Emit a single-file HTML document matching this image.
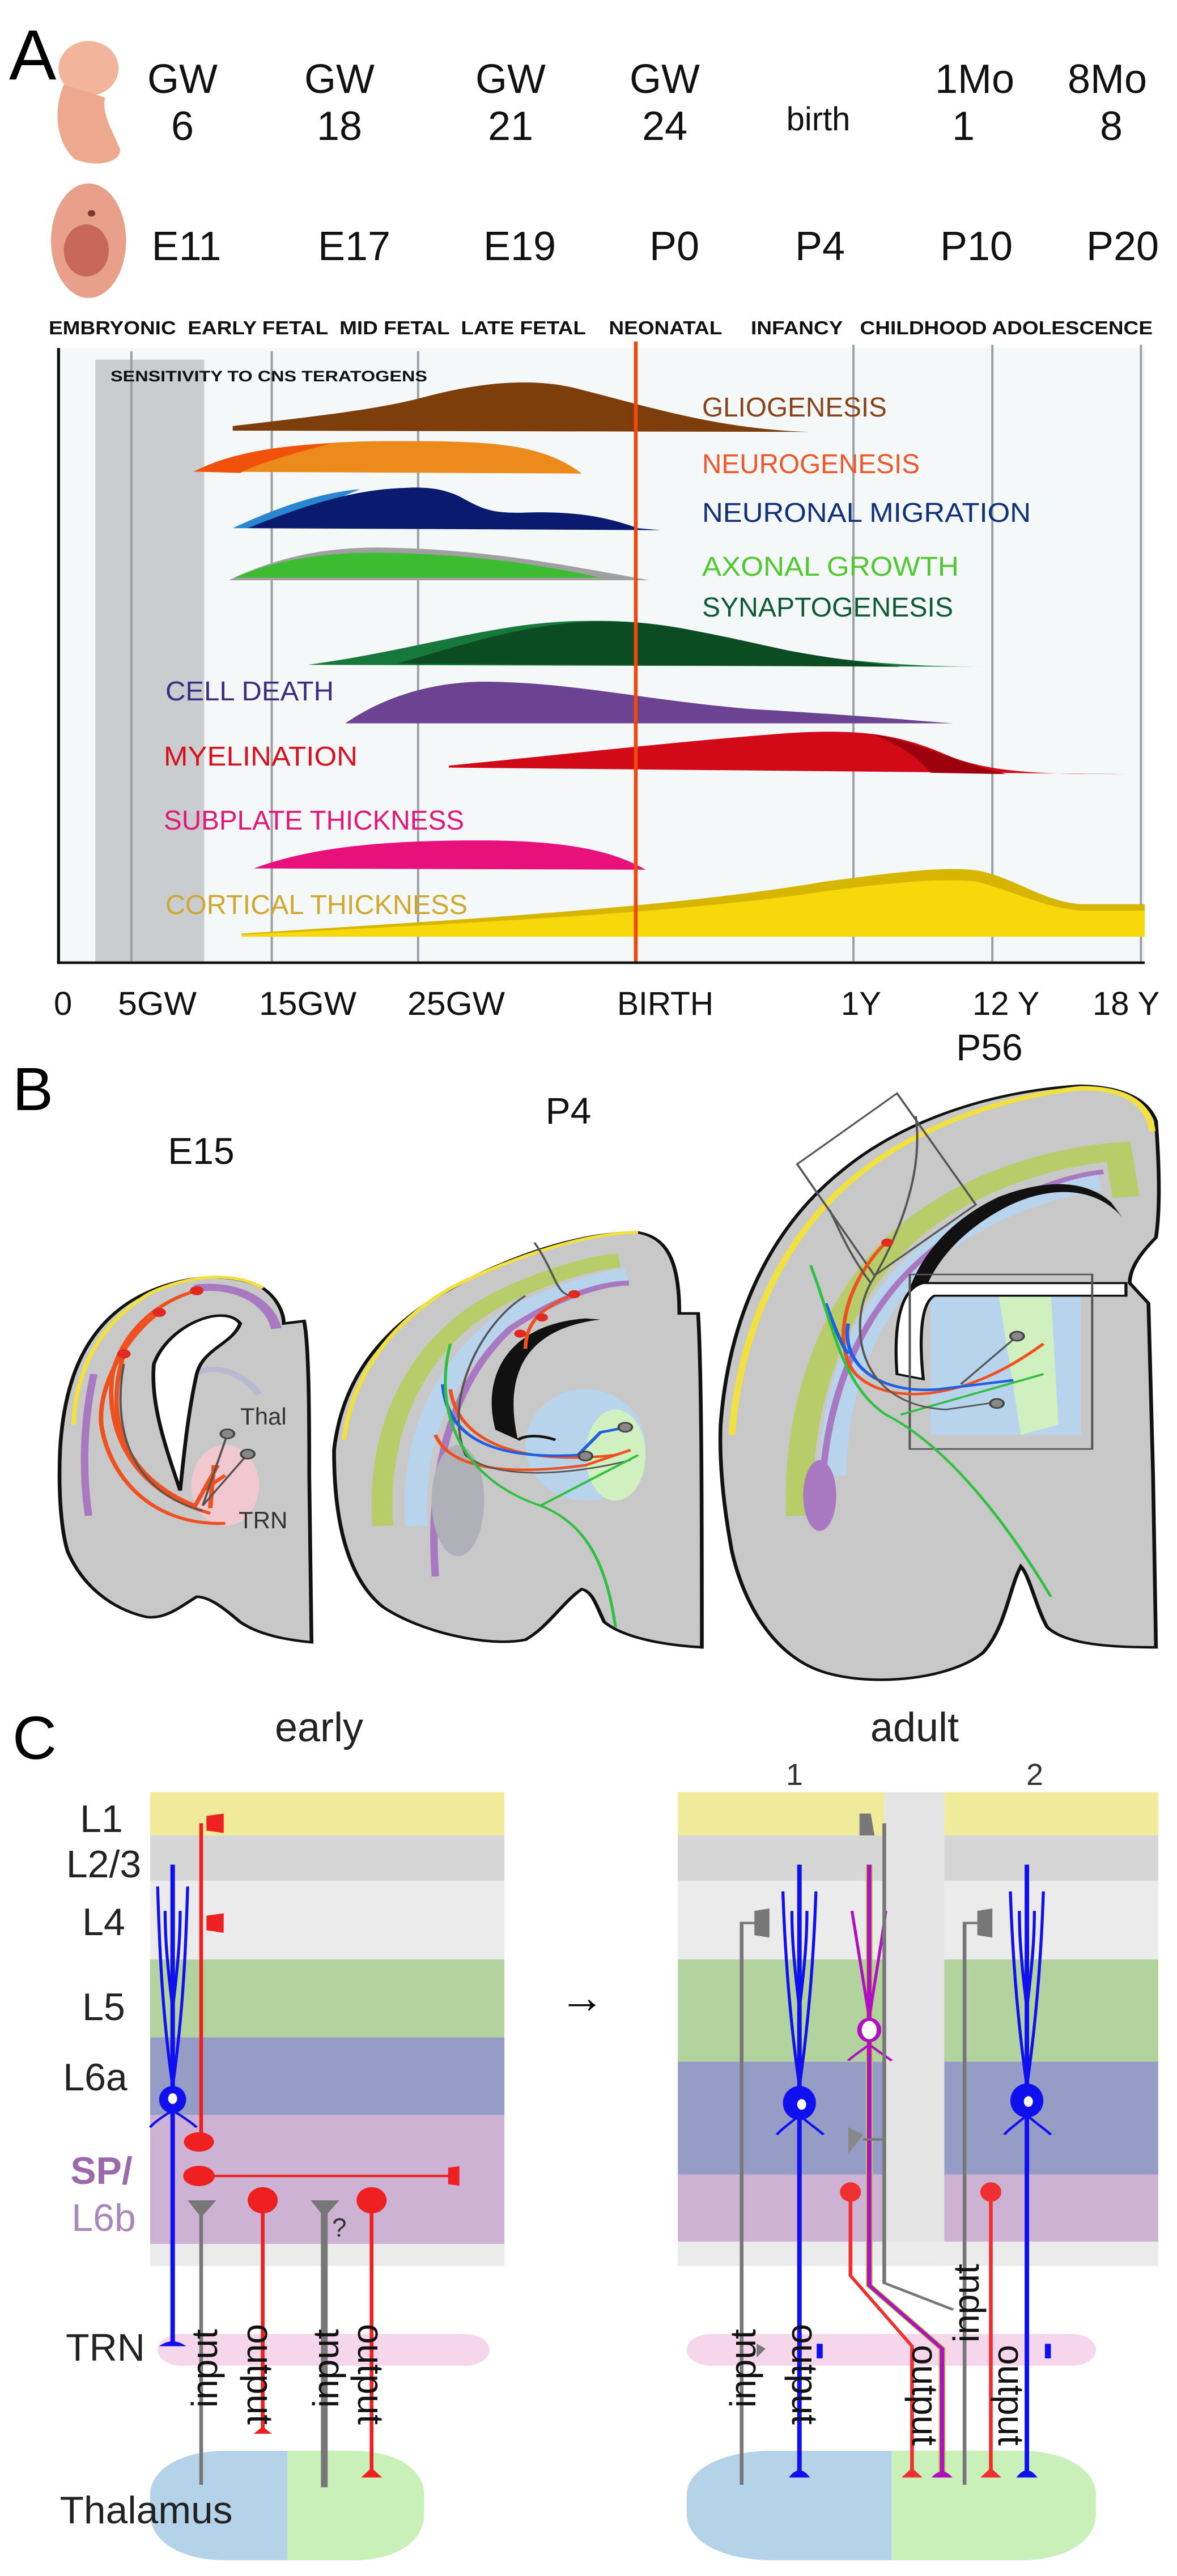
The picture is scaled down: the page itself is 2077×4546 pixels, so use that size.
<!DOCTYPE html>
<html><head><meta charset="utf-8"><style>
html,body{margin:0;padding:0;background:#fff;}
body{width:2077px;height:4546px;position:relative;overflow:hidden;}
svg{position:absolute;left:0;}
text{font-family:"Liberation Sans",sans-serif;}
</style></head><body>

<!-- PANEL A -->
<svg style="top:0" width="2077" height="1800" viewBox="0 0 1568 1568" preserveAspectRatio="none">
<rect width="1568" height="1568" fill="#fff"/>
<g>
<ellipse cx="118" cy="105" rx="40" ry="42" fill="#f2b49a"/>
<path d="M85,130 C70,170 75,220 100,245 C130,258 160,250 160,230 C150,200 135,175 140,150 Z" fill="#eea88e"/>
<ellipse cx="118" cy="370" rx="50" ry="88" fill="#e8a08a"/>
<ellipse cx="115" cy="385" rx="30" ry="40" fill="#c8685a"/>
<circle cx="122" cy="328" r="5" fill="#7a3a30"/>
</g>
<rect x="80" y="535" width="1445" height="945" fill="#f4f8f8"/>
<rect x="127" y="553" width="145" height="927" fill="#c9cdd0"/>
<g stroke="#9aa0a4" stroke-width="3">
<line x1="175" y1="540" x2="175" y2="1480"/><line x1="362" y1="540" x2="362" y2="1480"/><line x1="557" y1="540" x2="557" y2="1480"/>
<line x1="1137" y1="530" x2="1137" y2="1480"/><line x1="1322" y1="530" x2="1322" y2="1480"/><line x1="1520" y1="530" x2="1520" y2="1480"/>
</g>
<path d="M310,655 C420,640 500,630 560,612 C630,590 700,580 760,595 C850,620 950,660 1080,664 L310,662 Z" fill="#7d3e0c"/>
<path d="M258,725 C320,690 420,678 520,678 C650,678 720,680 775,728 Z" fill="#ec8a1c"/>
<path d="M258,725 C300,700 360,685 440,682 C380,700 340,715 320,727 Z" fill="#f0520c"/>
<path d="M310,812 C360,785 420,758 480,752 C430,775 400,795 380,812 Z" fill="#2a86d0"/>
<path d="M330,812 C420,770 480,752 540,750 C570,748 590,752 610,762 C640,780 650,790 700,788 C780,785 820,800 850,812 L880,815 Z" fill="#0a1a6e"/>
<path d="M305,892 C380,850 450,840 520,842 C650,845 760,870 865,892 Z" fill="#a0a0a0"/>
<path d="M312,888 C380,855 450,848 520,850 C640,853 730,870 800,888 Z" fill="#3cbc30"/>
<path d="M410,1022 C550,1000 650,960 760,955 C850,952 900,960 1000,990 C1100,1015 1200,1025 1315,1025 Z" fill="#16783a"/>
<path d="M530,1020 C620,990 700,958 800,955 C880,955 950,975 1050,1000 C1120,1015 1180,1022 1200,1025 Z" fill="#0b4c22"/>
<path d="M460,1112 C500,1080 560,1050 640,1048 C760,1048 850,1075 1000,1090 C1150,1100 1220,1108 1270,1112 Z" fill="#6c4292"/>
<path d="M598,1177 C750,1160 900,1140 1050,1127 C1150,1120 1200,1130 1260,1160 C1320,1190 1400,1190 1500,1190 L598,1180 Z" fill="#d20a18"/>
<path d="M1160,1128 C1220,1140 1270,1170 1340,1190 L1240,1188 C1220,1160 1190,1140 1160,1128Z" fill="#9c000c"/>
<path d="M338,1335 C420,1300 520,1292 640,1292 C760,1292 820,1310 860,1337 Z" fill="#e8107a"/>
<path d="M322,1435 C600,1415 900,1395 1100,1355 C1200,1340 1270,1330 1310,1340 C1360,1355 1390,1385 1440,1390 L1525,1390 L1525,1440 L322,1440 Z" fill="#d6b600"/>
<path d="M322,1437 C600,1420 900,1405 1100,1370 C1200,1355 1260,1350 1300,1355 C1350,1370 1390,1395 1440,1400 L1525,1400 L1525,1440 L322,1440 Z" fill="#f7d80a"/>
<line x1="847" y1="525" x2="847" y2="1482" stroke="#ee4a10" stroke-width="5"/>
<line x1="78" y1="535" x2="78" y2="1482" stroke="#111" stroke-width="4"/>
<line x1="76" y1="1480" x2="1525" y2="1480" stroke="#111" stroke-width="4"/>
</svg>

<!-- PANEL B -->
<svg style="top:1800px" width="2077" height="1400" viewBox="0 0 1568 1568" preserveAspectRatio="none">
<rect width="1568" height="1568" fill="#fff"/>
<path d="M80,850 C85,720 110,620 170,560 C220,510 300,490 350,530 C370,550 378,580 378,600 L405,595 C412,640 412,800 412,900 L415,1230 C380,1225 345,1215 320,1190 C300,1165 280,1140 262,1140 C240,1160 220,1185 195,1180 C150,1165 110,1120 90,1050 C80,1000 78,920 80,850 Z" fill="#c8c8c8" stroke="#111" stroke-width="5"/>
<path d="M98,800 C100,700 130,600 200,540 C250,505 310,495 350,530" fill="none" stroke="#f0e040" stroke-width="6"/>
<path d="M260,530 C320,520 360,560 368,610" fill="none" stroke="#a878c0" stroke-width="14"/>
<path d="M260,700 C280,680 320,690 345,740" fill="none" stroke="#b8b8d0" stroke-width="10"/>
<path d="M125,700 C110,800 110,900 118,980" fill="none" stroke="#a878c0" stroke-width="10"/>
<ellipse cx="300" cy="920" rx="45" ry="80" fill="#f2c8d0"/>
<path d="M205,680 C225,600 300,560 320,600 C310,640 270,650 262,700 C250,780 245,860 240,930 C222,850 200,760 205,680 Z" fill="#fff" stroke="#111" stroke-width="5"/>
<g fill="none" stroke="#ee5020" stroke-width="6">
<path d="M262,535 C200,560 160,630 150,700 C140,800 170,930 280,975"/>
<path d="M215,575 C170,620 130,720 135,800 C145,900 200,1000 300,995"/>
<path d="M165,660 C140,780 160,900 260,960 L290,880"/>
<path d="M280,965 L285,880 M270,930 L300,900"/>
</g>
<g fill="none" stroke="#555" stroke-width="3"><path d="M165,680 C150,800 170,930 270,970"/><path d="M270,960 L303,818 M270,960 L330,858"/></g>
<circle cx="303" cy="818" r="9" fill="#888" stroke="#444" stroke-width="3"/><circle cx="330" cy="858" r="9" fill="#888" stroke="#444" stroke-width="3"/>
<circle cx="262" cy="535" r="9" fill="#e02a20"/><circle cx="212" cy="578" r="9" fill="#e02a20"/><circle cx="165" cy="660" r="9" fill="#e02a20"/>
<path d="M445,850 C455,720 500,620 590,540 C660,480 760,420 850,420 C890,430 905,480 905,580 L930,580 C935,700 935,1000 935,1240 C880,1235 830,1220 805,1190 C795,1160 790,1130 775,1125 C750,1150 730,1200 700,1225 C650,1240 560,1210 510,1160 C460,1100 445,980 445,850 Z" fill="#c8c8c8" stroke="#111" stroke-width="5"/>
<path d="M458,830 C470,700 520,600 600,530 C680,470 780,420 850,420" fill="none" stroke="#f0e040" stroke-width="6"/>
<path d="M510,1000 C500,800 560,620 680,540 C740,500 790,480 825,475" fill="none" stroke="#b8cc6a" stroke-width="28"/>
<path d="M555,1000 C545,820 600,650 700,570 C760,530 810,510 835,505" fill="none" stroke="#b8d4ec" stroke-width="30"/>
<path d="M580,1100 C570,900 600,720 680,610 C740,550 800,520 838,520" fill="none" stroke="#a878c0" stroke-width="10"/>
<ellipse cx="610" cy="950" rx="35" ry="110" fill="#b0b0b8"/>
<ellipse cx="780" cy="840" rx="80" ry="110" fill="#b8d4ec"/>
<ellipse cx="820" cy="860" rx="40" ry="90" fill="#d0f0c0"/>
<path d="M660,810 C640,700 680,600 780,590 L800,592 C700,610 670,700 690,830 Z" fill="#111"/>
<path d="M690,830 C700,820 720,820 740,830" fill="none" stroke="#111" stroke-width="5"/>
<g fill="none" stroke-width="5">
<path d="M580,820 C600,890 680,900 780,880 L840,850" stroke="#ee5020"/>
<path d="M600,730 C610,840 700,880 820,860" stroke="#ee5020"/>
<path d="M700,545 C640,600 590,750 620,860 C660,910 760,900 840,870" stroke="#555" stroke-width="3"/>
<path d="M590,720 C595,820 650,870 770,860 L800,815 L835,805" stroke="#2060e0"/>
<path d="M600,640 C580,750 600,900 720,960 C790,1000 810,1100 820,1200" stroke="#30c040" stroke-width="4"/>
<path d="M720,960 L850,860" stroke="#30c040" stroke-width="4"/>
<path d="M760,545 C720,570 700,600 700,650" stroke="#ee5020"/>
<path d="M712,440 C740,500 740,540 760,545" stroke="#555" stroke-width="3"/>
</g>
<circle cx="765" cy="542" r="8" fill="#e02a20"/><circle cx="722" cy="588" r="8" fill="#e02a20"/><circle cx="693" cy="620" r="8" fill="#e02a20"/>
<circle cx="833" cy="805" r="9" fill="#888" stroke="#444" stroke-width="3"/><circle cx="780" cy="862" r="9" fill="#888" stroke="#444" stroke-width="3"/>
<path d="M960,800 C970,600 1020,420 1120,300 C1200,200 1320,140 1440,130 C1500,132 1530,160 1540,200 C1545,300 1545,380 1540,430 C1520,460 1505,490 1505,520 L1530,560 C1535,800 1538,1000 1540,1240 C1480,1240 1420,1235 1395,1200 C1380,1160 1372,1100 1360,1080 C1345,1120 1340,1200 1310,1250 C1270,1300 1170,1320 1100,1290 C1030,1260 990,1150 975,1050 C965,970 958,880 960,800 Z" fill="#c8c8c8" stroke="#111" stroke-width="5"/>
<path d="M975,820 C985,620 1040,430 1140,310 C1220,210 1340,150 1440,135 C1500,135 1530,165 1535,220" fill="none" stroke="#f0e040" stroke-width="9"/>
<path d="M1065,980 C1060,760 1110,550 1210,420 C1290,320 1400,270 1490,260 L1500,350" fill="none" stroke="#b8cc6a" stroke-width="36"/>
<path d="M1110,900 C1110,730 1150,580 1230,470 C1300,380 1400,330 1465,320" fill="none" stroke="#b8d4ec" stroke-width="36"/>
<path d="M1095,1000 C1090,800 1130,600 1230,470 C1300,380 1400,310 1470,300" fill="none" stroke="#a878c0" stroke-width="9"/>
<ellipse cx="1092" cy="940" rx="22" ry="70" fill="#a878c0"/>
<rect x="1240" y="520" width="200" height="300" fill="#b8d4ec"/>
<path d="M1330,540 L1400,540 L1410,800 L1360,820 Z" fill="#d0f0c0"/>
<path d="M1210,700 C1180,560 1230,420 1330,350 C1400,310 1450,320 1480,360 L1495,390 C1460,330 1400,325 1340,370 C1250,440 1200,560 1230,700 Z" fill="#111"/>
<path d="M1195,700 C1190,600 1200,530 1230,520 L1500,520 L1500,545 L1245,545 C1225,560 1225,640 1230,710 Z" fill="#fff" stroke="#111" stroke-width="4"/>
<path d="M1062,285 L1195,145 L1300,365 L1165,505 Z" fill="none" stroke="#555" stroke-width="3"/>
<rect x="1212" y="503" width="243" height="345" fill="none" stroke="#555" stroke-width="3"/>
<g fill="none" stroke-width="5">
<path d="M1180,440 C1120,530 1110,650 1140,700 C1180,760 1280,760 1390,640" stroke="#ee5020"/>
<path d="M1130,600 C1120,680 1170,740 1250,730 L1350,712" stroke="#2060e0"/>
<path d="M1100,560 C1110,600 1120,640 1130,660" stroke="#2060e0"/>
<path d="M1080,485 C1110,600 1120,720 1180,780 C1260,840 1340,990 1400,1140" stroke="#30c040" stroke-width="4"/>
<path d="M1200,780 L1390,700" stroke="#30c040" stroke-width="4"/>
<path d="M1220,190 C1230,300 1200,420 1160,520 C1130,600 1140,760 1260,770 L1330,755" stroke="#555" stroke-width="3"/>
<path d="M1280,720 L1355,625" stroke="#555" stroke-width="3"/>
<path d="M1105,375 C1120,420 1130,460 1160,520" stroke="#555" stroke-width="3"/>
</g>
<circle cx="1182" cy="440" r="8" fill="#e02a20"/>
<circle cx="1355" cy="625" r="9" fill="#888" stroke="#444" stroke-width="3"/><circle cx="1328" cy="758" r="9" fill="#888" stroke="#444" stroke-width="3"/>
</svg>

<!-- PANEL C -->
<svg style="top:3148.5px" width="2077" height="1397.5" viewBox="0 -60 1568 1628" preserveAspectRatio="none">
<rect x="0" y="-60" width="1568" height="1628" fill="#fff"/>
<rect x="200" y="-44" width="472" height="89" fill="#f0eb9a"/>
<rect x="200" y="45" width="472" height="93" fill="#d6d6d6"/>
<rect x="200" y="138" width="472" height="162" fill="#ebebeb"/>
<rect x="200" y="300" width="472" height="160" fill="#b2d29e"/>
<rect x="200" y="460" width="472" height="160" fill="#959cc6"/>
<rect x="200" y="620" width="472" height="265" fill="#cdb2d4"/>
<rect x="200" y="885" width="472" height="45" fill="#ebebeb"/>
<rect x="1178" y="-44" width="80" height="974" fill="#e4e4e4"/>
<g>
<rect x="903" y="-44" width="275" height="89" fill="#f0eb9a"/><rect x="1258" y="-44" width="285" height="89" fill="#f0eb9a"/>
<rect x="903" y="45" width="275" height="93" fill="#d6d6d6"/><rect x="1258" y="45" width="285" height="93" fill="#d6d6d6"/>
<rect x="903" y="138" width="275" height="162" fill="#ebebeb"/><rect x="1258" y="138" width="285" height="162" fill="#ebebeb"/>
<rect x="903" y="300" width="275" height="210" fill="#b2d29e"/><rect x="1258" y="300" width="285" height="210" fill="#b2d29e"/>
<rect x="903" y="510" width="275" height="232" fill="#959cc6"/><rect x="1258" y="510" width="285" height="232" fill="#959cc6"/>
<rect x="903" y="742" width="275" height="138" fill="#cdb2d4"/><rect x="1258" y="742" width="285" height="138" fill="#cdb2d4"/>
<rect x="903" y="880" width="640" height="50" fill="#ebebeb"/>
</g>
<rect x="210" y="1070" width="442" height="65" rx="32" fill="#f6d6ea"/>
<rect x="915" y="1070" width="545" height="65" rx="32" fill="#f6d6ea"/>
<path d="M300,1310 L383,1310 L383,1535 L300,1535 C240,1535 200,1495 200,1440 L200,1400 C200,1350 240,1310 300,1310Z" fill="#b4d2e8"/>
<path d="M383,1310 L470,1310 C530,1310 565,1350 565,1400 L565,1440 C565,1495 530,1535 470,1535 L383,1535Z" fill="#c8f0b8"/>
<path d="M1030,1310 L1188,1310 L1188,1535 L1030,1535 C960,1535 915,1495 915,1440 L915,1400 C915,1350 960,1310 1030,1310Z" fill="#b4d2e8"/>
<path d="M1188,1310 L1360,1310 C1420,1310 1460,1350 1460,1400 L1460,1440 C1460,1495 1420,1535 1360,1535 L1188,1535Z" fill="#c8f0b8"/>
<g fill="none">
<line x1="230" y1="105" x2="230" y2="1090" stroke="#1010ee" stroke-width="6"/>
<path d="M230,560 C215,400 212,250 210,150 M230,560 C245,400 248,250 250,150 M230,400 C222,300 220,250 220,200 M230,400 C238,300 240,250 240,200" stroke="#1010ee" stroke-width="4"/>
<path d="M230,610 C215,625 205,635 200,645 M230,610 C245,625 255,635 262,645" stroke="#1010ee" stroke-width="4"/>
<line x1="268" y1="20" x2="268" y2="660" stroke="#ee2020" stroke-width="5"/>
<line x1="265" y1="745" x2="605" y2="745" stroke="#ee2020" stroke-width="5"/>
<line x1="350" y1="795" x2="350" y2="1270" stroke="#ee2020" stroke-width="5"/>
<line x1="495" y1="795" x2="495" y2="1355" stroke="#ee2020" stroke-width="5"/>
<line x1="268" y1="805" x2="268" y2="1380" stroke="#777" stroke-width="5"/>
<line x1="432" y1="805" x2="432" y2="1385" stroke="#777" stroke-width="9"/>
</g>
<ellipse cx="230" cy="588" rx="18" ry="28" fill="#1010ee"/><ellipse cx="230" cy="586" rx="6" ry="11" fill="#fff"/>
<path d="M212,1095 Q230,1075 248,1095 Z" fill="#1010ee"/>
<path d="M275,5 L298,0 L298,40 L275,35 Z" fill="#ee2020"/><path d="M275,210 L298,205 L298,245 L275,240 Z" fill="#ee2020"/>
<path d="M597,728 L612,725 L612,765 L597,762 Z" fill="#ee2020"/>
<circle cx="265" cy="675" r="20" fill="#ee2020"/><circle cx="265" cy="745" r="21" fill="#ee2020"/>
<ellipse cx="350" cy="795" rx="20" ry="27" fill="#ee2020"/><ellipse cx="495" cy="795" rx="20" ry="27" fill="#ee2020"/>
<path d="M250,795 L288,795 L268,830 Z" fill="#777"/><path d="M414,795 L452,795 L432,830 Z" fill="#777"/>
<path d="M338,1275 L362,1275 L350,1260 Z" fill="#ee2020"/><path d="M481,1365 L509,1365 L495,1345 Z" fill="#ee2020"/>
<g fill="none">
<line x1="1065" y1="105" x2="1065" y2="1355" stroke="#1010ee" stroke-width="6"/>
<line x1="1368" y1="105" x2="1368" y2="1355" stroke="#1010ee" stroke-width="6"/>
<path d="M1065,560 C1050,400 1045,250 1043,160 M1065,560 C1080,400 1085,250 1087,160 M1065,400 C1057,300 1055,250 1055,200 M1065,400 C1073,300 1075,250 1075,200" stroke="#1010ee" stroke-width="4"/>
<path d="M1368,560 C1353,400 1348,250 1346,160 M1368,560 C1383,400 1388,250 1390,160 M1368,400 C1360,300 1358,250 1358,200 M1368,400 C1376,300 1378,250 1378,200" stroke="#1010ee" stroke-width="4"/>
<path d="M1065,620 C1050,640 1040,650 1035,660 M1065,620 C1080,640 1090,650 1097,660 M1368,620 C1353,640 1343,650 1338,660 M1368,620 C1383,640 1393,650 1400,660" stroke="#1010ee" stroke-width="4"/>
<path d="M1158,105 L1158,970 L1255,1100 L1255,1355" stroke="#b0d040" stroke-width="9"/>
<path d="M1158,105 L1158,970 L1255,1100 L1255,1355" stroke="#b010c0" stroke-width="6"/>
<path d="M1158,420 C1148,320 1140,250 1135,200 M1158,420 C1168,320 1176,250 1180,200" stroke="#b010c0" stroke-width="4"/>
<path d="M1158,475 C1145,490 1135,500 1130,508 M1158,475 C1171,490 1181,500 1188,508" stroke="#b010c0" stroke-width="4"/>
<path d="M1133,778 L1133,950 L1215,1095 L1215,1355" stroke="#ee3030" stroke-width="5"/>
<line x1="1320" y1="778" x2="1320" y2="1355" stroke="#ee3030" stroke-width="5"/>
<path d="M988,1380 L988,225 L1008,225" stroke="#777" stroke-width="5"/>
<path d="M1285,1380 L1285,225 L1305,225" stroke="#777" stroke-width="5"/>
<path d="M1178,20 L1178,965 L1270,1020" stroke="#777" stroke-width="5"/>
<path d="M1150,670 L1178,670" stroke="#777" stroke-width="5"/>
</g>
<ellipse cx="1065" cy="595" rx="22" ry="35" fill="#1010ee"/><ellipse cx="1068" cy="598" rx="6" ry="11" fill="#fff"/>
<ellipse cx="1368" cy="590" rx="22" ry="35" fill="#1010ee"/><ellipse cx="1370" cy="592" rx="6" ry="11" fill="#fff"/>
<ellipse cx="1158" cy="445" rx="13" ry="22" fill="#fff" stroke="#b010c0" stroke-width="6"/>
<path d="M1005,200 L1025,195 L1025,255 L1005,250 Z" fill="#777"/><path d="M1302,200 L1322,195 L1322,255 L1302,250 Z" fill="#777"/>
<path d="M1145,0 L1160,0 L1165,45 L1145,45 Z" fill="#777"/><path d="M1130,645 L1150,660 L1130,700 Z" fill="#888"/>
<path d="M1008,1090 L1020,1100 L1008,1118 Z" fill="#777"/>
<rect x="1088" y="1090" width="8" height="30" fill="#1010ee"/><rect x="1392" y="1090" width="8" height="30" fill="#1010ee"/>
<ellipse cx="1133" cy="778" rx="14" ry="20" fill="#ee3030"/><ellipse cx="1320" cy="778" rx="14" ry="20" fill="#ee3030"/>
<path d="M1051,1365 Q1065,1335 1079,1365 Z" fill="#1010ee"/><path d="M1354,1365 Q1368,1335 1382,1365 Z" fill="#1010ee"/>
<path d="M1201,1365 L1229,1365 L1215,1345 Z" fill="#ee3030"/><path d="M1306,1365 L1334,1365 L1320,1345 Z" fill="#ee3030"/>
<path d="M1241,1365 Q1255,1340 1269,1365 Z" fill="#b010c0"/>
</svg>

<!-- TEXT OVERLAY (undistorted, original pixel coords) -->
<svg style="top:0" width="2077" height="4546" viewBox="0 0 2077 4546">
<text x="16" y="140" font-size="125">A</text>
<g font-size="72" text-anchor="middle" fill="#111">
<text x="322" y="164">GW</text><text x="599" y="164">GW</text><text x="901" y="164">GW</text><text x="1173" y="164">GW</text>
<text x="1720" y="164">1Mo</text><text x="1954" y="164">8Mo</text>
<text x="322" y="247">6</text><text x="599" y="247">18</text><text x="901" y="247">21</text><text x="1173" y="247">24</text>
<text x="1444" y="230" font-size="58">birth</text>
<text x="1700" y="247">1</text><text x="1961" y="247">8</text>
<text x="329" y="459">E11</text><text x="625" y="459">E17</text><text x="917" y="459">E19</text><text x="1190" y="459">P0</text>
<text x="1447" y="459">P4</text><text x="1723" y="459">P10</text><text x="1981" y="459">P20</text>
</g>
<text x="86" y="590" font-size="33" font-weight="bold" fill="#111" textLength="1948" lengthAdjust="spacingAndGlyphs" xml:space="preserve">EMBRYONIC  EARLY FETAL  MID FETAL  LATE FETAL    NEONATAL     INFANCY   CHILDHOOD ADOLESCENCE</text>
<text x="195" y="673" font-size="27" font-weight="bold" fill="#111" textLength="559" lengthAdjust="spacingAndGlyphs">SENSITIVITY TO CNS TERATOGENS</text>
<g font-size="48">
<text x="1239" y="735" fill="#8a4218" textLength="326" lengthAdjust="spacingAndGlyphs">GLIOGENESIS</text>
<text x="1239" y="835" fill="#f0582a" textLength="384" lengthAdjust="spacingAndGlyphs">NEUROGENESIS</text>
<text x="1239" y="921" fill="#10307a" textLength="580" lengthAdjust="spacingAndGlyphs">NEURONAL MIGRATION</text>
<text x="1239" y="1016" fill="#50c830" textLength="453" lengthAdjust="spacingAndGlyphs">AXONAL GROWTH</text>
<text x="1239" y="1088" fill="#0e5a36" textLength="443" lengthAdjust="spacingAndGlyphs">SYNAPTOGENESIS</text>
<text x="292" y="1236" fill="#3a2e80" textLength="297" lengthAdjust="spacingAndGlyphs">CELL DEATH</text>
<text x="289" y="1351" fill="#d8101e" textLength="342" lengthAdjust="spacingAndGlyphs">MYELINATION</text>
<text x="289" y="1464" fill="#e01878" textLength="530" lengthAdjust="spacingAndGlyphs">SUBPLATE THICKNESS</text>
<text x="292" y="1613" fill="#d0a830" textLength="533" lengthAdjust="spacingAndGlyphs">CORTICAL THICKNESS</text>
</g>
<g font-size="58" fill="#111">
<text x="95" y="1791">0</text><text x="208" y="1791" textLength="139" lengthAdjust="spacingAndGlyphs">5GW</text>
<text x="457" y="1791" textLength="172" lengthAdjust="spacingAndGlyphs">15GW</text><text x="719" y="1791" textLength="172" lengthAdjust="spacingAndGlyphs">25GW</text>
<text x="1089" y="1791" textLength="170" lengthAdjust="spacingAndGlyphs">BIRTH</text><text x="1484" y="1791">1Y</text>
<text x="1716" y="1791">12 Y</text><text x="1928" y="1791">18 Y</text>
</g>
<!-- B -->
<text x="22" y="1959" font-size="108">B</text>
<g font-size="66" text-anchor="middle" fill="#111">
<text x="355" y="2054">E15</text><text x="1003" y="1983">P4</text><text x="1746" y="1871">P56</text>
</g>
<text x="424" y="2514" font-size="42" fill="#333">Thal</text>
<text x="421" y="2697" font-size="42" fill="#333">TRN</text>
<!-- C -->
<text x="22" y="3104" font-size="108">C</text>
<text x="563" y="3073" font-size="72" text-anchor="middle" fill="#222">early</text>
<text x="1614" y="3073" font-size="72" text-anchor="middle" fill="#222">adult</text>
<text x="1402" y="3150" font-size="54" text-anchor="middle" fill="#333">1</text>
<text x="1826" y="3150" font-size="54" text-anchor="middle" fill="#333">2</text>
<g font-size="68" fill="#222" text-anchor="middle">
<text x="179" y="3233">L1</text><text x="183" y="3313">L2/3</text><text x="183" y="3415">L4</text>
<text x="183" y="3565">L5</text><text x="168" y="3689">L6a</text>
<text x="179" y="3854" fill="#9a6aaa" font-weight="bold">SP/</text><text x="183" y="3937" fill="#a888b8">L6b</text>
<text x="186" y="4166">TRN</text>
<text x="258" y="4453" textLength="305" lengthAdjust="spacingAndGlyphs">Thalamus</text>
</g>
<text x="1027" y="3552" font-size="80" text-anchor="middle">→</text>
<text x="586" y="3947" font-size="46" fill="#333">?</text>
<g font-size="64" fill="#111">
<text transform="translate(383,4249) rotate(-90)">input</text>
<text transform="translate(437,4101) rotate(90)">output</text>
<text transform="translate(597,4249) rotate(-90)">input</text>
<text transform="translate(632,4101) rotate(90)">output</text>
<text transform="translate(1333,4249) rotate(-90)">input</text>
<text transform="translate(1398,4101) rotate(90)">output</text>
<text transform="translate(1610,4138) rotate(90)">output</text>
<text transform="translate(1727,4134) rotate(-90)">input</text>
<text transform="translate(1762,4138) rotate(90)">output</text>
</g>
</svg>
</body></html>
